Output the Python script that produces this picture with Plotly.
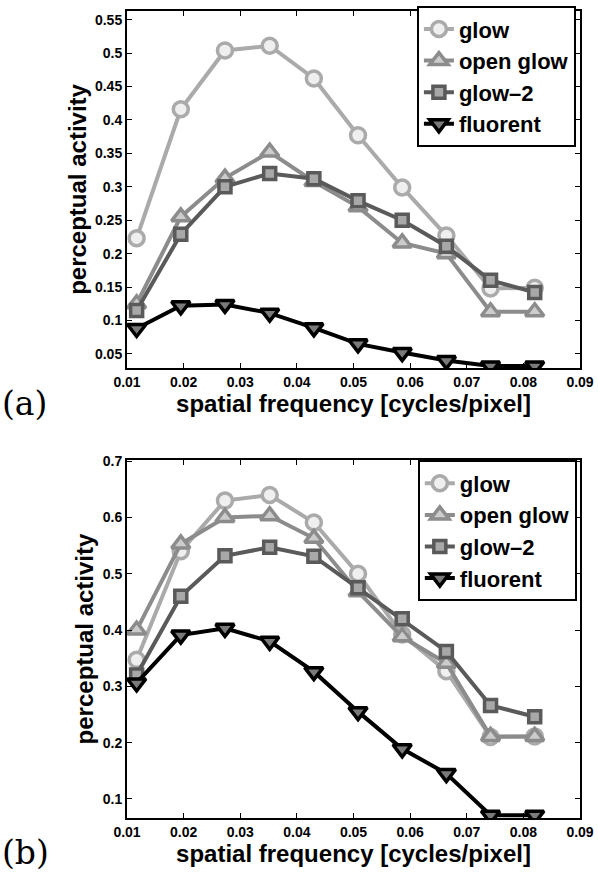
import plotly.graph_objects as go

# spatial frequency samples [cycles/pixel]
freq = [0.0117, 0.0195, 0.0273, 0.0352, 0.0430, 0.0508, 0.0586, 0.0664, 0.0742, 0.0820]

# panel (a)
glow_a = [0.223, 0.416, 0.504, 0.511, 0.462, 0.377, 0.299, 0.227, 0.148, 0.149]
open_glow_a = [0.125, 0.255, 0.313, 0.352, 0.308, 0.270, 0.216, 0.200, 0.113, 0.113]
glow2_a = [0.115, 0.229, 0.300, 0.320, 0.312, 0.279, 0.250, 0.211, 0.160, 0.142]
fluorent_a = [0.088, 0.122, 0.124, 0.111, 0.089, 0.065, 0.052, 0.040, 0.032, 0.032]

# panel (b)
glow_b = [0.347, 0.540, 0.630, 0.640, 0.591, 0.500, 0.392, 0.327, 0.210, 0.211]
open_glow_b = [0.400, 0.553, 0.600, 0.603, 0.563, 0.468, 0.388, 0.341, 0.211, 0.211]
glow2_b = [0.320, 0.460, 0.532, 0.547, 0.531, 0.475, 0.420, 0.362, 0.266, 0.246]
fluorent_b = [0.306, 0.391, 0.403, 0.380, 0.326, 0.255, 0.189, 0.145, 0.071, 0.071]

names = ['glow', 'open glow', 'glow\u20132', 'fluorent']

x_ticks = [0.01, 0.02, 0.03, 0.04, 0.05, 0.06, 0.07, 0.08, 0.09]
x_ticktext = ['0.01', '0.02', '0.03', '0.04', '0.05', '0.06', '0.07', '0.08', '0.09']
ya_ticks = [0.05, 0.1, 0.15, 0.2, 0.25, 0.3, 0.35, 0.4, 0.45, 0.5, 0.55]
ya_ticktext = ['0.05', '0.1', '0.15', '0.2', '0.25', '0.3', '0.35', '0.4', '0.45', '0.5', '0.55']
yb_ticks = [0.1, 0.2, 0.3, 0.4, 0.5, 0.6, 0.7]
yb_ticktext = ['0.1', '0.2', '0.3', '0.4', '0.5', '0.6', '0.7']

# line colour, marker fill, symbol, marker size
styles = [
    ('#aaaaaa', '#efefef', 'circle', 15),
    ('#8c8c8c', '#cccccc', 'triangle-up', 16),
    ('#5a5a5a', '#a8a8a8', 'square', 12),
    ('#000000', '#7a7a7a', 'triangle-down', 16),
]

FONT = 'Liberation Sans, Arial, sans-serif'
SERIF = 'DejaVu Serif, Liberation Serif, serif'

fig = go.Figure()

panels = [
    ('x', 'y', 'legend', [glow_a, open_glow_a, glow2_a, fluorent_a]),
    ('x2', 'y2', 'legend2', [glow_b, open_glow_b, glow2_b, fluorent_b]),
]
for xa, ya, leg, series in panels:
    for name, vals, (lc, fc, sym, sz) in zip(names, series, styles):
        fig.add_trace(go.Scatter(
            x=freq, y=vals, name=name, mode='lines+markers',
            xaxis=xa, yaxis=ya, legend=leg,
            line=dict(color=lc, width=4),
            marker=dict(symbol=sym, size=sz, color=fc,
                        line=dict(color=lc, width=3.5)),
        ))

axis_common = dict(
    showline=True, linecolor='black', linewidth=2, mirror='ticks',
    ticks='inside', ticklen=5, tickwidth=1, tickcolor='black',
    showgrid=False, zeroline=False, ticklabeloverflow='allow',
    tickfont=dict(family=FONT, size=14, color='black', weight='bold'),
)
title_font = dict(family=FONT, size=24, color='black', weight='bold')

legend_common = dict(
    bgcolor='white', bordercolor='black', borderwidth=2,
    font=dict(family=FONT, size=22, color='black', weight='bold'),
    xanchor='right', yanchor='top', tracegroupgap=0,
    itemwidth=30, traceorder='normal',
)

fig.update_layout(
    width=598, height=875,
    paper_bgcolor='white', plot_bgcolor='white',
    margin=dict(l=127, r=15, t=4, b=57),
    showlegend=True,
    xaxis=dict(axis_common, domain=[0, 1], range=[0.01, 0.09], anchor='y',
               tickvals=x_ticks, ticktext=x_ticktext,
               title=dict(text='spatial frequency [cycles/pixel]', font=title_font, standoff=0)),
    yaxis=dict(axis_common, domain=[0.5577, 1], range=[0.029, 0.563], anchor='x',
               tickvals=ya_ticks, ticktext=ya_ticktext,
               title=dict(text='perceptual activity', font=title_font, standoff=2)),
    xaxis2=dict(axis_common, domain=[0, 1], range=[0.01, 0.09], anchor='y2',
                tickvals=x_ticks, ticktext=x_ticktext,
                title=dict(text='spatial frequency [cycles/pixel]', font=title_font, standoff=0)),
    yaxis2=dict(axis_common, domain=[0, 0.4435], range=[0.066, 0.702], anchor='x2',
                tickvals=yb_ticks, ticktext=yb_ticktext,
                title=dict(text='perceptual activity', font=title_font, standoff=2)),
    legend=dict(legend_common, x=0.991, y=1.006),
    legend2=dict(legend_common, x=0.993, y=0.443),
    annotations=[
        dict(text='(a)', xref='paper', yref='paper', x=-0.28, y=0.540, showarrow=False,
             xanchor='left', yanchor='top', font=dict(family=SERIF, size=33, color='black')),
        dict(text='(b)', xref='paper', yref='paper', x=-0.28, y=-0.016, showarrow=False,
             xanchor='left', yanchor='top', font=dict(family=SERIF, size=33, color='black')),
    ],
)

# drop the browser's default page margin so the figure sits at the top-left corner
fig.write_html('out.html', config={'displayModeBar': False},
               post_script="document.body.style.margin='0';")
